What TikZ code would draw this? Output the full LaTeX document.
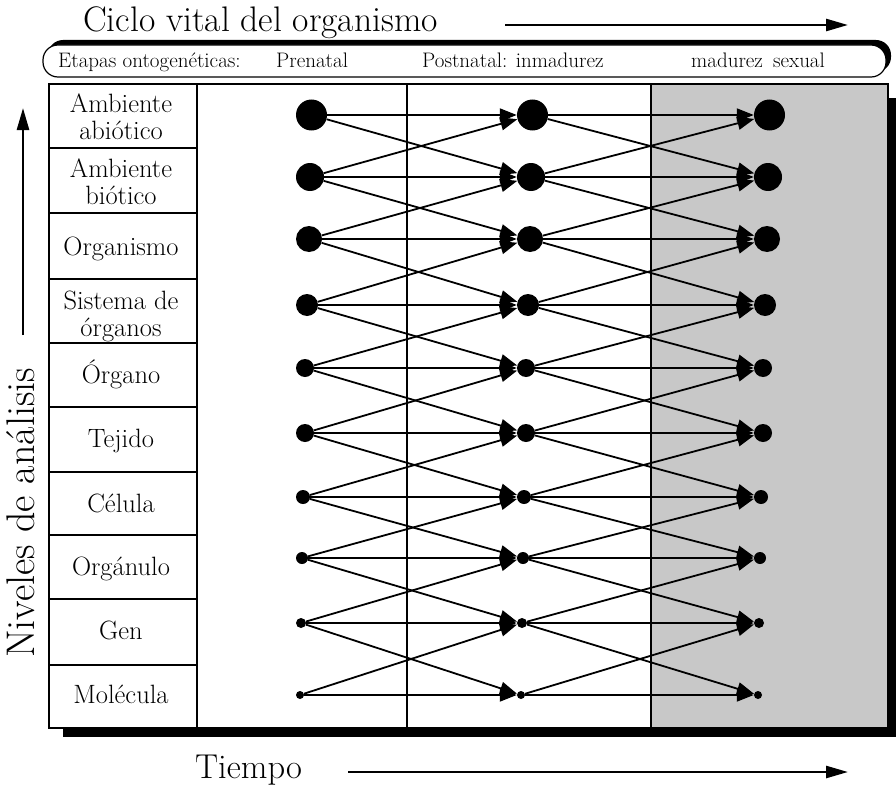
\documentclass[tikz,border=0pt]{standalone}
\usepackage{fontspec}
\usetikzlibrary{arrows.meta}
\definecolor{panelgray}{RGB}{200,200,200}
\begin{document}
\begin{tikzpicture}[x=1pt,y=-1pt,
 dot/.style={circle,fill=black,inner sep=0pt,minimum size=#1},
 link/.style={line width=1.8pt,-{Triangle[length=17pt,width=13pt]}},
 bigarrow/.style={line width=2.6pt,-{Triangle[length=22pt,width=12pt]}},
 rowlabel/.style={font=\fontsize{26.5}{27}\selectfont,align=center,inner sep=0pt},
 stage/.style={font=\fontsize{21}{24}\selectfont,anchor=base west,inner sep=0pt},
 boxline/.style={line width=1.5pt},
 gridline/.style={line width=1.2pt}]
\useasboundingbox (0,0) rectangle (896,789);
% title
\node[font=\fontsize{35.5}{40}\selectfont,anchor=base west,inner sep=0pt] (title) at (83,32) {Ciclo vital del organismo};
\coordinate (ta) at (505,25); \coordinate (tb) at (848,25);
\draw[bigarrow] (ta) -- (tb);
% stages band
\fill[rounded corners=15pt] (48,40) rectangle (891,72);
\filldraw[fill=white,line width=1.2pt,rounded corners=15pt] (43,45) rectangle (886,77);
\node[stage] (st0) at (58,68) {Etapas ontogenéticas:};
\node[stage] (st1) at (276,68) {Prenatal};
\node[stage] (st2) at (422,68) {Postnatal: inmadurez};
\node[stage] (st3) at (691,68) {madurez\hspace{10pt}sexual};
% main box
\fill (63,98) rectangle (896,737);
\fill[white] (49,84) rectangle (888,728);
\fill[panelgray] (651,84) rectangle (888,728);
\draw[gridline] (197,84) -- (197,728);
\draw[gridline] (407,84) -- (407,728);
\draw[gridline] (651,84) -- (651,728);
\foreach \y in {148,213,279,343,407,472,535,599,665} \draw[gridline] (49,\y) -- (197,\y);
\draw[boxline] (49,84) rectangle (888,728);
% row labels
\node[rowlabel,anchor=north] (r1) at (121,94) {Ambiente\\abiótico};
\node[rowlabel,anchor=north] (r2) at (121,159) {Ambiente\\biótico};
\node[rowlabel,anchor=base] (r3) at (121,255) {Organismo};
\node[rowlabel,anchor=north] (r4) at (121,291) {Sistema de\\órganos};
\node[rowlabel,anchor=base] (r5) at (121,383) {Órgano};
\node[rowlabel,anchor=base] (r6) at (121,447) {Tejido};
\node[rowlabel,anchor=base] (r7) at (121,512) {Célula};
\node[rowlabel,anchor=base] (r8) at (121,575) {Orgánulo};
\node[rowlabel,anchor=base] (r9) at (121,639) {Gen};
\node[rowlabel,anchor=base] (r10) at (121,703) {Molécula};
% left axis
\coordinate (la) at (23,335); \coordinate (lb) at (23,108);
\draw[bigarrow] (la) -- (lb);
\node[rotate=90,anchor=base west,inner sep=0pt,font=\fontsize{40}{44}\selectfont] (niv) at (34,658) {Niveles de análisis};
% bottom axis
\node[font=\fontsize{34.5}{38}\selectfont,anchor=base west,inner sep=0pt] (tiempo) at (195,778) {Tiempo};
\coordinate (ba) at (348,772); \coordinate (bb) at (848,772);
\draw[bigarrow] (ba) -- (bb);
% dots
\foreach \i/\y/\r in {1/115/15.5,2/177/14,3/239/13,4/305/11,5/368/9,6/433/9,7/497/7,8/558/6,9/623/5,10/695/4}{
 \pgfmathsetmacro\d{2*\r}
 \node[dot=\d pt] (a\i) at ({296+\r},\y) {};
 \node[dot=\d pt] (b\i) at ({517+\r},\y) {};
 \node[dot=\d pt] (c\i) at ({754+\r},\y) {};
}
% links
\foreach \i in {1,...,10}{
 \draw[link] (a\i) -- (b\i);
 \draw[link] (b\i) -- (c\i);
}
\foreach \i [evaluate=\i as \j using int(\i+1)] in {1,...,9}{
 \draw[link] (a\i) -- (b\j);
 \draw[link] (a\j) -- (b\i);
 \draw[link] (b\i) -- (c\j);
 \draw[link] (b\j) -- (c\i);
}
\end{tikzpicture}
\end{document}
